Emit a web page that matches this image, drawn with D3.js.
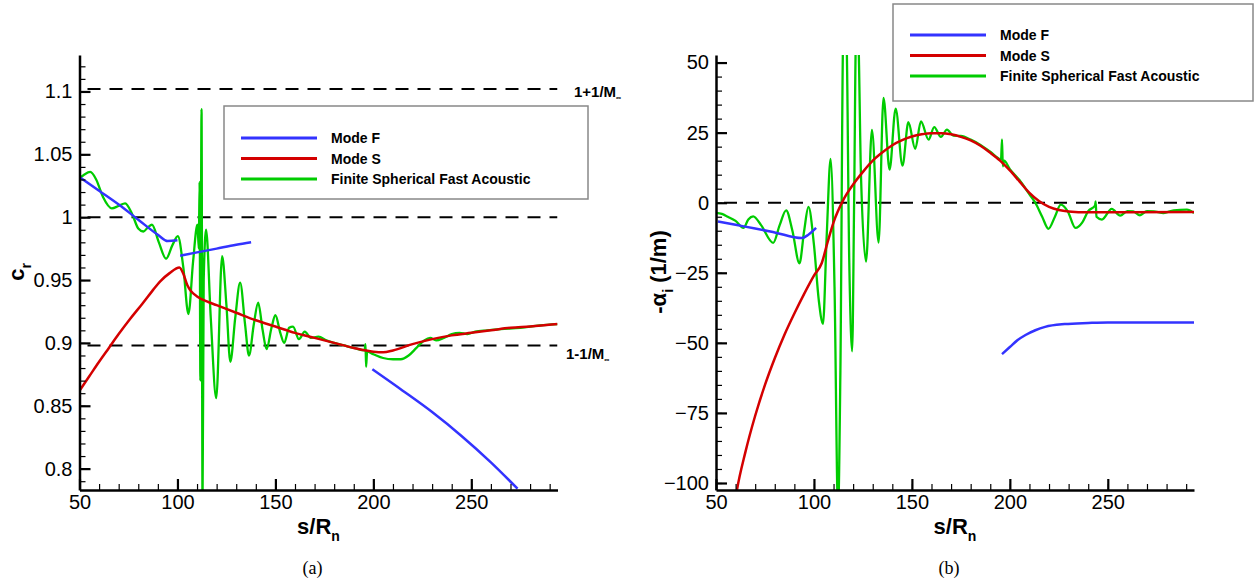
<!DOCTYPE html>
<html lang="en">
<head>
<meta charset="UTF-8">
<title>Mode F / Mode S</title>
<style>
  body { margin: 0; background: #fff; }
  svg { display: block; font-family: "Liberation Sans", Arial, sans-serif; }
  .axis path, .axis line { stroke: #000; }
  .axis text { font-size: 20px; fill: #000; }
  .legend text { font-size: 14px; font-weight: bold; }
</style>
</head>
<body>
<script src="https://cdn.jsdelivr.net/npm/d3@7"></script>
<script>
// ---- data ----
var xTicks = [50, 100, 150, 200, 250];
var crTicks = [0.8, 0.85, 0.9, 0.95, 1, 1.05, 1.1];
var alphaTicks = [-100, -75, -50, -25, 0, 25, 50];
var legendNames = ["Mode F", "Mode S", "Finite Spherical Fast Acoustic"];

// (a) phase speed c_r
var crRefLines = [1.102, 1.0, 0.898];
var crModeF = [
  [[50, 1.032], [60, 1.021], [70, 1.010], [80, 0.998], [90, 0.986], [95, 0.981], [100, 0.9816]],
  [[101.4, 0.9694], [110, 0.972], [120, 0.975], [130, 0.978], [137.6, 0.980]],
  [[199.5, 0.879], [215, 0.862], [230, 0.845], [245, 0.826], [260, 0.805], [273.6, 0.784]]
];
var crModeS = [[50, 0.862], [55, 0.8735], [60, 0.885], [65, 0.896], [70, 0.907], [75.8, 0.919],
  [82, 0.931], [87, 0.941], [91.2, 0.949], [96, 0.9555], [101, 0.960], [103, 0.955], [105, 0.946],
  [107, 0.941], [110, 0.937], [115, 0.933], [120, 0.930], [130, 0.924], [140, 0.918], [150, 0.913],
  [160, 0.908], [170, 0.904], [180, 0.900], [190, 0.896], [200, 0.893], [205, 0.8925], [210, 0.894],
  [220, 0.899], [230, 0.903], [240, 0.906], [250, 0.908], [260, 0.910], [270, 0.912], [280, 0.913],
  [294, 0.915]];
var crAcoustic = [[50, 1.031], [52.5, 1.034], [55.5, 1.036], [58.5, 1.03], [62, 1.016], [66.5, 1.007],
  [70, 1.009], [73.3, 1.011], [77, 1.002], [80, 0.991], [82.6, 0.9886], [85, 0.992], [87, 0.994],
  [90.5, 0.98], [94.2, 0.967], [97.5, 0.978], [100.2, 0.985], [103, 0.96], [105.6, 0.923], [108, 0.965],
  [110.2, 0.994], [110.9, 0.975], [111.3, 1.028], [111.7, 0.87], [112.3, 1.086], [112.8, 0.77],
  [113.4, 0.95], [114.6, 0.99], [117, 0.92], [119.8, 0.856], [122.8, 0.969], [125, 0.93], [127, 0.885],
  [129.5, 0.92], [132, 0.948], [134.5, 0.915], [136.5, 0.89], [139, 0.915], [141.2, 0.932],
  [143.5, 0.91], [145.5, 0.895], [148, 0.912], [150, 0.922], [152.5, 0.908], [154.5, 0.9], [157, 0.912],
  [159, 0.913], [162, 0.903], [165, 0.909], [168, 0.904], [172, 0.905], [176, 0.902], [180, 0.900],
  [185, 0.898], [190, 0.896], [195.5, 0.894], [196, 0.899], [196.3, 0.881], [196.8, 0.893], [200, 0.891],
  [205, 0.888], [210, 0.887], [214, 0.887], [218, 0.890], [222, 0.896], [226, 0.902], [229, 0.904],
  [232, 0.902], [236, 0.904], [240, 0.907], [244, 0.908], [248, 0.907], [252, 0.909], [258, 0.910],
  [265, 0.911], [275, 0.912], [285, 0.914], [294, 0.915]];

// (b) growth rate -alpha_i
var alphaRefLines = [0];
var alphaModeF = [
  [[51, -6.7], [60, -7.9], [70, -9.2], [80, -10.6], [93.8, -12.6], [97, -11.5], [101.1, -9.0]],
  [[196, -54], [200, -51.5], [204, -49], [208, -47.2], [213, -45.5], [218, -44.3], [228, -43.3],
   [240, -42.9], [250, -42.7], [270, -42.7], [294, -42.7]]
];
var alphaModeS = [[59, -110], [60.7, -102.5], [65, -89], [70, -76], [75, -65], [80, -55.5], [85, -47],
  [90, -39.5], [95, -32.5], [100, -26], [104, -21.5], [107, -14], [110, -7], [115, 1], [120, 6.5],
  [125, 11], [130, 15], [135, 18], [140, 20.5], [145, 22.3], [150, 23.6], [155, 24.4], [160, 24.8],
  [165, 24.8], [170, 24.4], [175, 23.5], [180, 22.2], [185, 20.3], [190, 17.8], [195, 15], [200, 11.5],
  [205, 7.5], [210, 3.5], [215, 0.5], [220, -1.5], [225, -2.6], [230, -3.1], [240, -3.4], [260, -3.4],
  [294, -3.3]];
var alphaAcoustic = [[50, -3.6], [53, -4], [56, -5], [60, -6.5], [64, -9], [66.5, -6], [69, -4.9],
  [73, -8], [79.2, -14.3], [82.5, -8], [85.8, -2.7], [89, -10], [92.6, -21.6], [95, -10], [97.2, -1.5],
  [100, -15], [102.5, -35], [104.6, -43.2], [106.5, -12], [108.5, 15.6], [110.5, -30], [112.3, -110],
  [113.5, -60], [115, 60], [116.5, 60], [118, -20], [119.5, -53], [120.5, 0], [121.5, 60], [122.5, 60],
  [124, 10], [126.6, -21], [129.6, 26], [133, -14.2], [135.5, 37.4], [138.6, 11.8], [141.7, 33.6],
  [145.2, 13.2], [148.2, 28.7], [151.7, 19.2], [154.6, 29], [158.5, 22.5], [161.4, 27], [164.8, 23.5],
  [167.9, 26.1], [171.2, 23.9], [175, 23.8], [180, 22.5], [185, 20.6], [190, 18.2], [195.5, 15.5],
  [196, 22.6], [196.4, 13], [197, 15], [200, 12], [205, 8], [210, 3], [213, 0], [216.5, -5],
  [219.7, -9.3], [223, -5], [226, -0.7], [229.5, -3], [233.5, -9], [237, -7], [240, -3], [243.5, -1],
  [243.8, 0.5], [244.2, -5], [247, -6], [252, -2.2], [256.3, -4.6], [260, -3], [263, -3.1],
  [266.4, -4.5], [270, -3], [273.4, -3.1], [278.5, -3.7], [283.6, -2.7], [290.4, -2.5], [294, -3.7]];

var colors = { F: "#3333ff", S: "#d40000", A: "#00cc00" };

var svg = d3.select("body").append("svg")
    .attr("width", 1257)
    .attr("height", 586);

function panel(opt) {
  var x = d3.scaleLinear().domain([50, 294]).range([opt.left, opt.left + 478]);
  var y = d3.scaleLinear().domain(opt.yDomain).range([490, 55]);
  var g = svg.append("g");

  g.append("clipPath").attr("id", opt.id + "-clip")
    .append("rect")
      .attr("x", x.range()[0]).attr("y", 55)
      .attr("width", 478).attr("height", 435);

  var plot = g.append("g").attr("clip-path", "url(#" + opt.id + "-clip)");
  var line = d3.line().x(function(d) { return x(d[0]); }).y(function(d) { return y(d[1]); })
      .curve(d3.curveMonotoneX);

  plot.selectAll(".ref").data(opt.refs).enter().append("line")
      .attr("x1", x.range()[0] + 8).attr("x2", x.range()[1])
      .attr("y1", function(d) { return y(d); }).attr("y2", function(d) { return y(d); })
      .attr("stroke", "#000").attr("stroke-width", 2).attr("stroke-dasharray", "13,9");

  plot.append("path").datum(opt.acoustic).attr("d", line)
      .attr("fill", "none").attr("stroke", colors.A).attr("stroke-width", 2.3);
  plot.append("path").datum(opt.modeS).attr("d", line)
      .attr("fill", "none").attr("stroke", colors.S).attr("stroke-width", 2.5);
  plot.selectAll(".mf").data(opt.modeF).enter().append("path")
      .attr("d", line)
      .attr("fill", "none").attr("stroke", colors.F).attr("stroke-width", 2.5);

  // minor ticks
  g.append("g").attr("class", "axis").attr("transform", "translate(0,490)")
      .call(d3.axisBottom(x).tickValues(d3.range(60, 294, 10)).tickSizeInner(-6).tickSizeOuter(0).tickFormat(""))
      .call(function(s) { s.select(".domain").remove(); s.selectAll("line").attr("stroke-width", 1.2); });
  g.append("g").attr("class", "axis").attr("transform", "translate(" + x.range()[0] + ",0)")
      .call(d3.axisLeft(y).tickValues(opt.minor).tickSizeInner(-6).tickSizeOuter(0).tickFormat(""))
      .call(function(s) { s.select(".domain").remove(); s.selectAll("line").attr("stroke-width", 1.2); });

  // major ticks
  g.append("g").attr("class", "axis").attr("transform", "translate(0,490)")
      .call(d3.axisBottom(x).tickValues(xTicks).tickSizeInner(-11).tickSizeOuter(0).tickPadding(5))
      .call(function(s) {
        s.select(".domain").attr("stroke-width", 2.5);
        s.selectAll("line").attr("stroke-width", 2.2);
      });
  g.append("g").attr("class", "axis").attr("transform", "translate(" + x.range()[0] + ",0)")
      .call(d3.axisLeft(y).tickValues(opt.ticks).tickSizeInner(-11).tickSizeOuter(0).tickPadding(7)
        .tickFormat(opt.fmt))
      .call(function(s) {
        s.select(".domain").attr("stroke-width", 2.5);
        s.selectAll("line").attr("stroke-width", 2.2);
      });

  // x title
  var cx = (x.range()[0] + x.range()[1]) / 2;
  var xt = g.append("text").attr("x", cx).attr("y", 534).attr("text-anchor", "middle")
      .attr("font-size", 22).attr("font-weight", "bold");
  xt.append("tspan").text("s/R");
  xt.append("tspan").attr("font-size", 14).attr("dy", 7).text("n");

  g.append("text").attr("x", cx - 6).attr("y", 574).attr("text-anchor", "middle")
      .attr("font-family", "'Liberation Serif', 'Times New Roman', serif").attr("font-size", 18)
      .text(opt.caption);

  // y title
  var yt = g.append("text").attr("transform", "translate(" + opt.ytx + ",272) rotate(-90)")
      .attr("text-anchor", "middle").attr("font-size", 22).attr("font-weight", "bold");
  opt.yTitle(yt);

  // legend
  var lg = g.append("g").attr("class", "legend");
  lg.append("rect").attr("x", opt.leg.x).attr("y", opt.leg.y)
      .attr("width", opt.leg.w).attr("height", opt.leg.h)
      .attr("fill", "#fff").attr("stroke", "#888").attr("stroke-width", 1.5);
  var lc = [colors.F, colors.S, colors.A];
  legendNames.forEach(function(name, i) {
    var ly = opt.leg.y + opt.leg.first + i * 20.5;
    lg.append("line").attr("x1", opt.leg.x + 17).attr("x2", opt.leg.x + 93)
        .attr("y1", ly).attr("y2", ly)
        .attr("stroke", lc[i]).attr("stroke-width", 3);
    lg.append("text").attr("x", opt.leg.x + 107).attr("y", ly + 5).text(name);
  });

  return { x: x, y: y, g: g };
}

var a = panel({
  id: "a", left: 79.5, yDomain: [0.783, 1.129],
  ticks: crTicks, minor: d3.range(79, 113).map(function(d) { return d / 100; }),
  fmt: function(d) { return d3.format("")(+d.toFixed(2)); },
  refs: crRefLines, modeF: crModeF, modeS: crModeS, acoustic: crAcoustic,
  caption: "(a)", ytx: 24,
  yTitle: function(t) {
    t.append("tspan").text("c");
    t.append("tspan").attr("font-size", 14).attr("dy", 7).text("r");
  },
  leg: { x: 224, y: 106, w: 364, h: 93, first: 32 }
});

// labels of the reference lines
function machLabel(x, y, sign) {
  var t = svg.append("text").attr("x", x).attr("y", y)
      .attr("font-size", 15).attr("font-weight", "bold");
  t.append("tspan").text("1" + sign + "1/M");
  t.append("tspan").attr("font-size", 7).attr("dy", 3).text("\u221e");
}
machLabel(574, 97, "+");
machLabel(566, 359, "-");

var b = panel({
  id: "b", left: 716, yDomain: [-102.5, 52.7],
  ticks: alphaTicks, minor: d3.range(-100, 51, 5),
  fmt: d3.format(""),
  refs: alphaRefLines, modeF: alphaModeF, modeS: alphaModeS, acoustic: alphaAcoustic,
  caption: "(b)", ytx: 666,
  yTitle: function(t) {
    t.append("tspan").text("-\u03b1");
    t.append("tspan").attr("font-size", 14).attr("dy", 7).text("i");
    t.append("tspan").attr("dy", -7).text(" (1/m)");
  },
  leg: { x: 893, y: 4, w: 360, h: 97, first: 31 }
});
</script>
</body>
</html>
